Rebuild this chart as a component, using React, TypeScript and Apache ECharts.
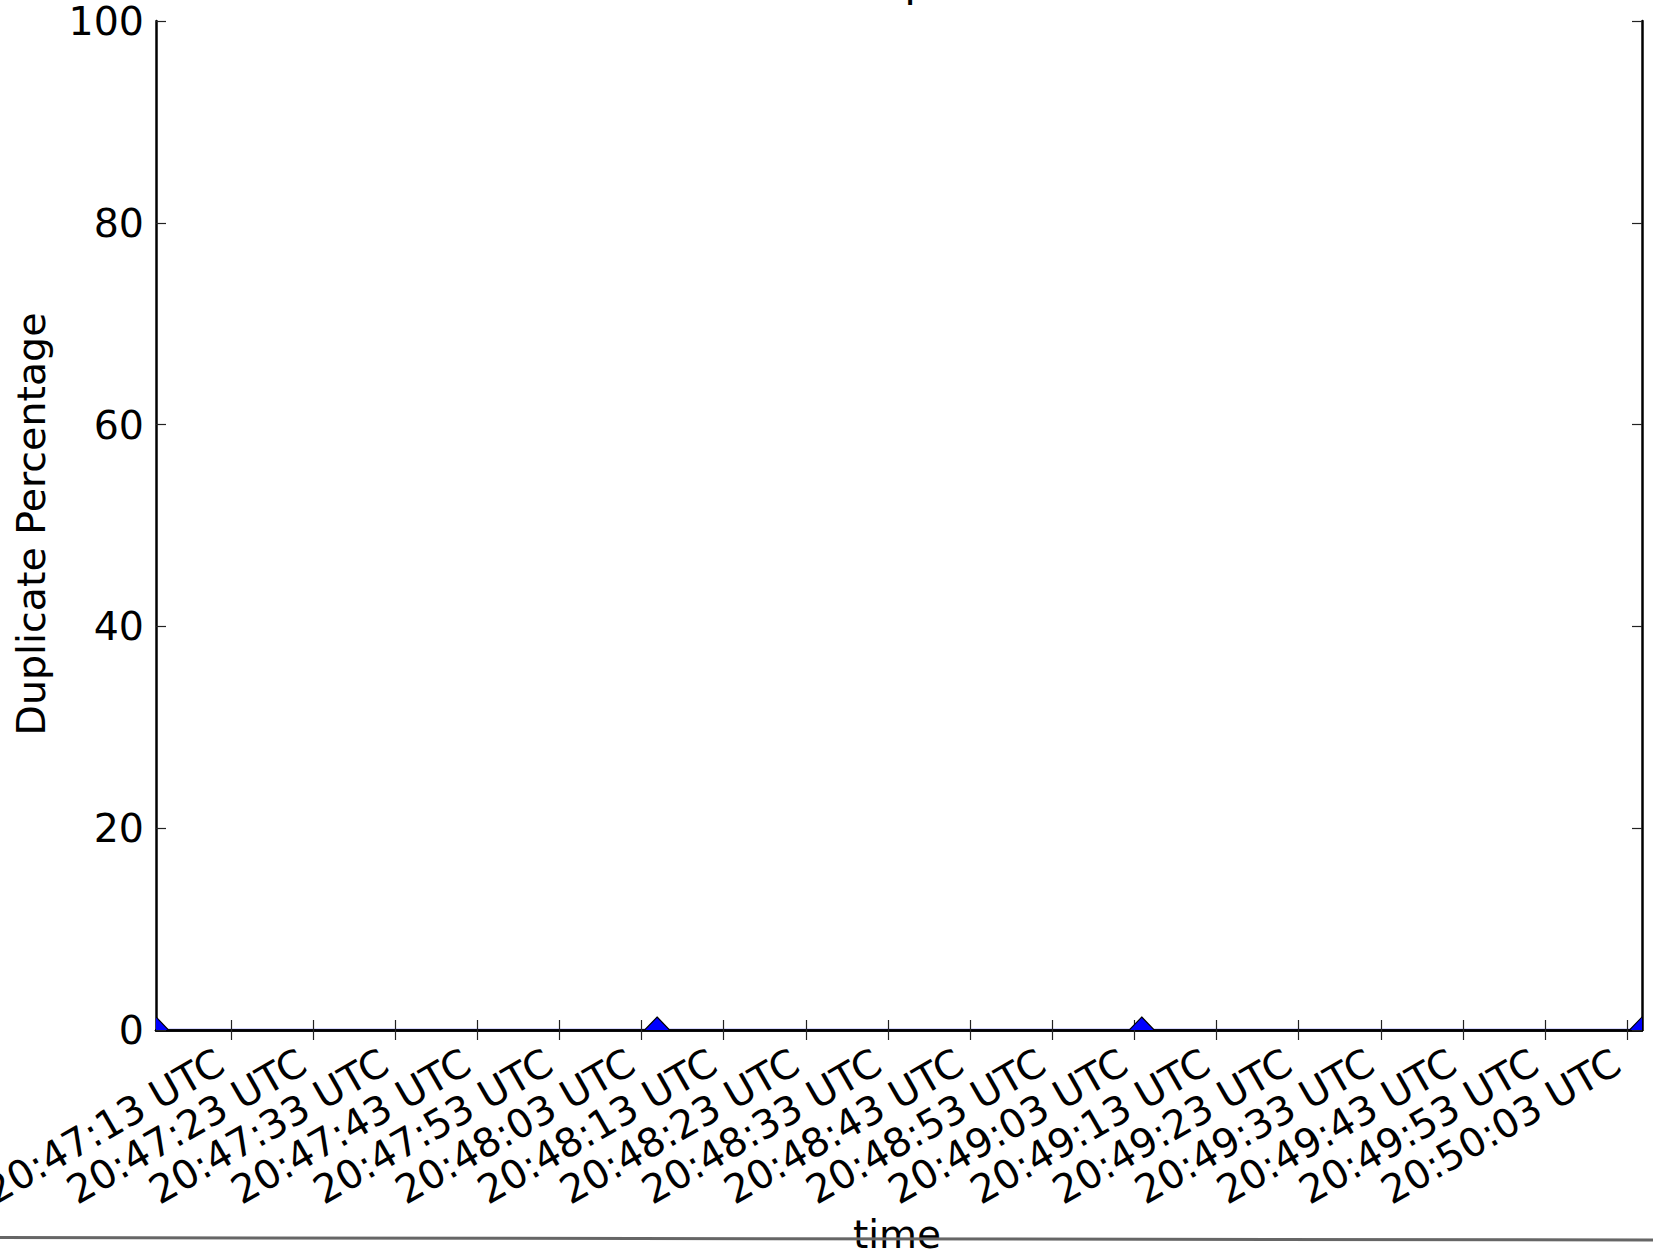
import React, { useEffect, useRef } from "react";
import * as echarts from "echarts";

// Sample times, in seconds after 20:47:03 UTC
const sampleSeconds = [0.9, 61.9, 120.9, 181.8];
// Duplicate percentage at each sample
const duplicatePercent = [0, 0, 0, 0];
// X tick positions (seconds after 20:47:03 UTC) and their labels
const xTickSeconds = [10, 20, 30, 40, 50, 60, 70, 80, 90, 100, 110, 120, 130, 140, 150, 160, 170, 180];
const xTickLabels = [
  "20:47:13 UTC", "20:47:23 UTC", "20:47:33 UTC", "20:47:43 UTC", "20:47:53 UTC",
  "20:48:03 UTC", "20:48:13 UTC", "20:48:23 UTC", "20:48:33 UTC", "20:48:43 UTC",
  "20:48:53 UTC", "20:49:03 UTC", "20:49:13 UTC", "20:49:23 UTC", "20:49:33 UTC",
  "20:49:43 UTC", "20:49:53 UTC", "20:50:03 UTC",
];
const yMin = 0;
const yMax = 100;
const yStep = 20;
const titleText = "Dups";
const xAxisTitle = "time";
const yAxisTitle = "Duplicate Percentage";

const FONT = "DejaVu Sans";

export default function App() {
  const ref = useRef<HTMLDivElement>(null);
  useEffect(() => {
    if (!ref.current) return;
    const chart = echarts.init(ref.current, undefined, { renderer: "svg" });
    const points = sampleSeconds.map((s, i) => [s, duplicatePercent[i]]);
    const xMin = sampleSeconds[0];
    const xMax = sampleSeconds[sampleSeconds.length - 1];
    const fmtX = (v: number) => {
      const i = xTickSeconds.findIndex((t) => Math.abs(t - v) < 1e-6);
      return i >= 0 ? xTickLabels[i] : "";
    };
    const tickStyle = { show: true, inside: true, length: 10, lineStyle: { color: "#222", width: 1.2 } };
    const xTickStyle = { ...tickStyle, customValues: xTickSeconds };
    const lineStyle = { show: true, lineStyle: { color: "#000", width: 2.5 } };
    chart.setOption({
      animation: false,
      backgroundColor: "#fff",
      grid: { left: 156, right: 11, top: 21, bottom: 223, containLabel: false, outerBoundsMode: "none" },
      xAxis: [
        {
          type: "value", min: xMin, max: xMax, position: "bottom", z: 5,
          axisLine: lineStyle, axisTick: xTickStyle, splitLine: { show: false },
          axisLabel: {
            show: true, rotate: 30, margin: 23, padding: [0, 12, 0, 0],
            fontFamily: FONT, fontSize: 39.5, color: "#000",
            hideOverlap: false, customValues: xTickSeconds,
            formatter: fmtX,
          },
        },
        {
          type: "value", min: xMin, max: xMax, position: "top", z: 5,
          axisLine: lineStyle, axisTick: xTickStyle, splitLine: { show: false },
          axisLabel: { show: false },
        },
      ],
      yAxis: [
        {
          type: "value", min: yMin, max: yMax, interval: yStep, position: "left", z: 5,
          axisLine: lineStyle, axisTick: tickStyle, splitLine: { show: false },
          axisLabel: { show: true, margin: 12, fontFamily: FONT, fontSize: 39.5, lineHeight: 32, color: "#000" },
        },
        {
          type: "value", min: yMin, max: yMax, interval: yStep, position: "right", z: 5,
          axisLine: lineStyle, axisTick: tickStyle, splitLine: { show: false },
          axisLabel: { show: false },
        },
      ],
      series: [
        {
          type: "line", data: points, xAxisIndex: 0, yAxisIndex: 0, z: 2,
          showSymbol: false, symbol: "none", clip: true,
          lineStyle: { color: "#0000ff", width: 3, opacity: 0.3 },
        },
        {
          type: "custom", data: points, xAxisIndex: 0, yAxisIndex: 0, z: 6, clip: true,
          renderItem: (params: any, api: any) => {
            const p = api.coord([api.value(0), api.value(1)]);
            return {
              type: "polygon",
              shape: { points: [[p[0], p[1] - 13], [p[0] + 25, p[1] + 13], [p[0] - 25, p[1] + 13]] },
              style: { fill: "#0000ff", stroke: "#000", lineWidth: 1.2 },
            };
          },
        },
      ],
      graphic: [
        {
          type: "text", x: 899, y: -19, z: 10,
          style: { text: titleText, font: `43px ${FONT}`, fill: "#000", align: "center", verticalAlign: "middle" },
        },
        {
          type: "text", x: 31, y: 524, rotation: Math.PI / 2, z: 10,
          style: { text: yAxisTitle, font: `39.5px ${FONT}`, fill: "#000", align: "center", verticalAlign: "middle" },
        },
        {
          type: "text", x: 897, y: 1234, z: 10,
          style: { text: xAxisTitle, font: `39px ${FONT}`, fill: "#000", align: "center", verticalAlign: "middle" },
        },
        {
          type: "line", z: 20,
          shape: { x1: 0, y1: 1237.5, x2: 1653, y2: 1240 },
          style: { stroke: "#666", lineWidth: 3 },
        },
      ],
    });
    return () => chart.dispose();
  }, []);
  return (
    <div
      ref={ref}
      style={{ position: "fixed", left: 0, top: 0, width: 1653, height: 1253, background: "#fff" }}
    />
  );
}
